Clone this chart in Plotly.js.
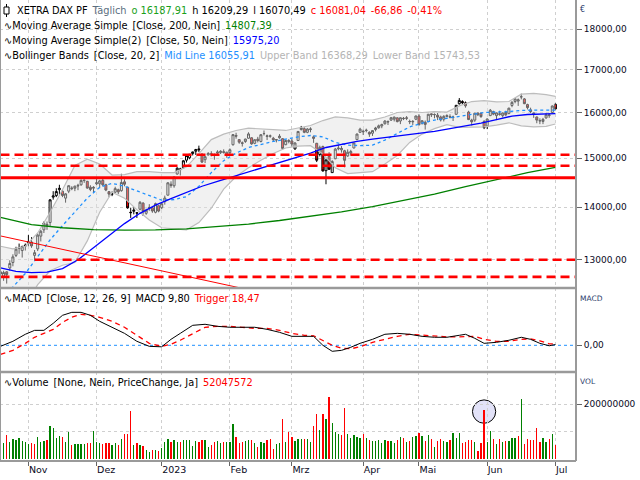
<!DOCTYPE html>
<html><head><meta charset="utf-8">
<script src="https://cdn.plot.ly/plotly-3.0.1.min.js"></script>
<style>html,body{margin:0;padding:0;background:#fff}#chart{width:640px;height:480px}</style>
</head><body><div id="chart"></div>
<script>
// ---------- DATA (trading days 19 Oct 2022 .. 3 Jul 2023, index 0..179) ----------
const tickIdx  = [9, 31, 52, 74, 94, 117, 135, 157, 179];
const tickText = ['Nov', 'Dez', '2023', 'Feb', 'Mrz', 'Apr', 'Mai', 'Jun', 'Jul'];

const openP = [12780,12700,12780,12850,12950,13080,13220,13170,13270,13300,
13330,13080,13200,13440,13560,13640,13700,14200,14230,14350,
14320,14180,14320,14370,14380,14440,14450,14540,14520,14400,
14380,14470,14470,14540,14450,14310,14260,14300,14350,14330,
14510,14400,13900,13920,13890,13960,14080,13880,13980,13990,
13900,14030,13990,14110,14240,14460,14430,14670,14760,14800,
14960,15010,15100,15150,15200,15090,14970,15070,15090,15060,
15110,15120,15140,15080,15120,15290,15490,15400,15330,15360,
15430,15440,15320,15410,15360,15530,15470,15480,15430,15390,
15440,15420,15290,15380,15370,15200,15380,15620,15640,15560,
15620,15460,15320,15080,15250,14740,15040,14700,14990,15200,
15180,15160,15050,15110,15220,15400,15560,15570,15600,15560,
15540,15620,15660,15700,15750,15800,15830,15850,15880,15810,
15870,15880,15800,15790,15850,15920,15760,15780,15800,15970,
15950,15940,15900,15850,15930,15910,15890,15960,16200,16250,
16220,16010,15830,15830,15990,15980,15800,15700,15930,16020,
15930,15970,15930,16000,15980,16160,16250,16260,16360,16310,
16180,16060,15960,15900,15820,15800,15880,15930,16000,16187.91];
const highP = [12850,12800,12790,12990,13100,13240,13300,13260,13300,13460,
13420,13180,13490,13560,13720,13720,14160,14320,14380,14450,
14350,14280,14440,14420,14430,14470,14560,14560,14530,14440,
14420,14580,14550,14570,14470,14320,14320,14410,14370,14675,
14560,14410,13990,14000,13900,14120,14100,13970,14060,14000,
14090,14040,14080,14230,14500,14520,14620,14810,14800,14960,
15060,15090,15140,15200,15270,15100,15050,15130,15150,15100,
15170,15170,15190,15140,15210,15520,15550,15410,15360,15420,
15560,15450,15410,15460,15520,15600,15510,15510,15460,15410,
15520,15430,15400,15410,15420,15340,15590,15700,15670,15650,
15670,15490,15330,15270,15270,14970,15130,14960,15220,15290,
15260,15180,15190,15180,15330,15530,15660,15620,15640,15580,
15600,15680,15730,15750,15830,15820,15900,15910,15890,15890,
15900,15920,15840,15830,15930,15960,15830,15820,15970,15980,
15980,15990,15930,15940,15960,15960,15930,16170,16330,16280,
16250,16040,15860,15990,16000,16000,15830,15870,16080,16040,
16000,16040,16000,16040,16110,16260,16320,16320,16430,16330,
16200,16110,16000,15910,15870,15880,15990,15980,16160,16209.29];
const lowP = [12660,12620,12570,12800,12880,13050,13110,13040,13170,13250,
13220,12990,13160,13340,13500,13560,13620,14150,14200,14250,
14200,14090,14280,14340,14320,14340,14430,14490,14370,14320,
14290,14440,14380,14420,14320,14200,14220,14280,14260,14310,
14420,13970,13790,13860,13790,13940,13830,13850,13930,13890,
13880,13900,13960,14050,14230,14390,14390,14660,14640,14780,
14910,14980,15060,15070,15130,14900,14900,15060,15040,14970,
15060,15090,15100,15010,15080,15270,15420,15310,15250,15330,
15420,15290,15300,15340,15340,15490,15390,15440,15360,15340,
15420,15190,15280,15320,15250,15180,15370,15600,15540,15540,
15560,15330,14920,15040,14720,14460,14760,14700,14980,15170,
15120,14810,15030,15060,15210,15390,15550,15500,15560,15460,
15480,15580,15640,15650,15730,15720,15810,15800,15780,15740,
15830,15830,15740,15720,15830,15710,15730,15620,15780,15900,
15870,15830,15800,15800,15890,15870,15810,15950,16180,16190,
16110,15830,15710,15790,15920,15880,15630,15630,15920,15940,
15830,15930,15890,15920,15960,16120,16210,16150,16300,16190,
16070,15990,15880,15760,15740,15740,15860,15880,15990,16070.49];
const closeP = [12741,12767,12731,12931,13053,13196,13211,13243,13253,13338,
13256,13130,13460,13533,13688,13666,14146,14224,14313,14378,
14234,14266,14431,14380,14422,14428,14539,14541,14383,14355,
14397,14490,14529,14448,14343,14261,14264,14371,14306,14497,
14461,13987,13893,13942,13885,14098,13914,13941,13995,13925,
14071,13924,14069,14182,14490,14436,14610,14792,14774,14947,
15058,15086,15135,15187,15181,14920,15033,15103,15093,15082,
15132,15150,15126,15128,15181,15509,15476,15345,15321,15412,
15524,15307,15397,15380,15507,15533,15482,15477,15397,15400,
15475,15210,15381,15365,15305,15328,15578,15654,15559,15632,
15633,15428,14959,15233,14735,14967,14768,14933,15195,15216,
15210,14957,15128,15142,15328,15522,15629,15581,15604,15520,
15598,15655,15703,15729,15808,15790,15883,15896,15796,15882,
15864,15872,15796,15800,15922,15727,15815,15734,15961,15953,
15955,15897,15834,15914,15917,15897,15898,16164,16275,16223,
16152,15842,15793,15984,15952,15909,15664,15853,16051,15964,
15993,15961,15990,15950,16098,16231,16311,16290,16358,16201,
16111,16023,15988,15830,15813,15846,15949,15946,16148,16081.04];
// volume in millions of shares
const volumeM = [69,59,87,63,72,69,75,65,62,53,
59,55,81,63,65,69,121,112,78,84,
79,61,99,51,55,55,55,53,57,57,
102,63,57,53,57,59,51,57,51,73,
91,91,175,51,59,51,47,33,27,33,
33,29,39,62,74,62,69,62,63,69,
69,69,48,65,63,69,69,45,51,61,
65,59,61,62,62,128,80,59,63,65,
69,69,57,45,63,57,69,73,36,53,
59,146,63,98,80,65,73,73,73,73,
63,121,164,106,164,146,224,131,99,91,
87,186,91,78,87,81,75,91,78,69,
65,65,69,59,69,65,65,59,69,81,
75,63,65,81,85,96,85,65,87,73,
45,65,73,65,62,69,96,78,96,59,
63,69,69,62,30,59,178,62,102,72,
55,72,62,65,65,75,78,84,218,55,
72,69,69,112,62,78,62,72,91,52.05];

// Moving averages
const ma200Idx = [0,10,20,30,40,50,60,70,80,90,100,110,120,130,140,150,160,170,179];
const ma200Val = [13800,13660,13600,13565,13555,13560,13580,13620,13670,13740,13820,13910,14010,14130,14260,14410,14550,14700,14807.39];
const ma50Idx = [0,5,10,15,20,25,30,35,40,45,50,55,60,65,70,75,80,85,90,95,100,105,110,115,120,125,130,135,140,145,150,155,160,165,170,175,179];
const ma50Val = [12850,12790,12765,12775,12840,13000,13220,13450,13680,13880,14040,14170,14300,14420,14520,14615,14720,14810,14900,15000,15110,15230,15300,15360,15410,15450,15490,15530,15580,15640,15700,15765,15840,15920,15955,15965,15975.20];
// Bollinger Bands (20, 2)
const bbIdx   = [0,4,8,12,16,20,24,28,32,36,40,44,48,52,56,60,64,68,72,76,80,84,88,92,96,100,104,108,112,116,120,124,128,132,136,140,144,148,152,156,160,164,168,172,176,179];
const bbMid   = [12380,12510,12750,13050,13370,13640,13900,14180,14400,14480,14420,14330,14230,14140,14150,14210,14420,14700,14950,15110,15230,15300,15360,15410,15460,15490,15460,15340,15280,15270,15280,15390,15530,15680,15760,15830,15870,15910,15960,16000,16010,16020,16050,16050,16040,16055.91];
const bbUpper = [13250,13200,13250,13500,13900,14350,14850,14980,14880,14650,14660,14720,14720,14700,14700,14820,15100,15400,15520,15600,15650,15640,15620,15600,15660,15710,15820,15900,15880,15830,15830,15900,16000,16020,16000,16020,16010,16150,16250,16270,16240,16250,16420,16440,16410,16368.29];
const bbLower = [11600,11800,12200,12550,12800,12900,12950,13350,13900,14300,14180,13950,13750,13600,13580,13560,13700,13980,14360,14620,14800,14960,15100,15220,15260,15270,15090,14800,14680,14700,14720,14880,15060,15340,15520,15640,15730,15670,15670,15680,15720,15770,15700,15680,15690,15743.53];

// MACD (12, 26, 9)
const macdIdx  = [0,4,8,11,14,17,20,23,26,29,32,36,40,44,48,52,55,58,62,66,70,74,78,82,86,90,94,98,101,104,107,110,113,116,120,124,128,132,136,140,144,148,150,153,156,160,164,168,171,174,177,179];
const macdVal  = [-13,51,140,190,190,279,381,419,419,381,305,229,152,51,-13,-19,76,152,254,267,241,229,229,229,203,165,114,114,114,0,-76,-64,-25,25,76,140,152,140,114,102,102,127,140,89,25,38,64,102,76,25,-6,9.80];
const trigVal  = [-114,-64,25,102,152,203,292,356,394,381,356,305,229,127,25,-13,13,64,152,229,241,241,229,216,216,190,152,127,121,64,0,-38,-44,-19,38,76,114,140,127,114,108,108,114,114,76,51,51,76,83,57,19,18.47];

// Horizontal support / resistance lines and trend line
const solidLevels  = [14593];
const dashedLevels = [15075, 14842, 12999, 12690];
const dashedStart  = [0, 0, 11, 0];
const trendIdx = [0, 80];
const trendVal = [13444, 12462];
// marked volume bar
const markIdx = 156, markVolLo = 130, markVolHi = 215; // millions

const priceTicks = [13000,14000,15000,16000,17000,18000];

// ---------- BUILD ----------
const N = closeP.length;
const idx = Array.from({length:N}, (_, i) => i);
const X0 = -0.16, X1 = 185.65;
const PH = 461; // plot height px
const fy = py => (PH - py) / PH;
const fx = px => px / 576;

const volColors = closeP.map((c, i) => (i > 0 && c >= closeP[i-1]) ? '#008000' : '#ff0000');

const data = [];
data.push({type:'scatter', mode:'lines', x:bbIdx, y:bbUpper, xaxis:'x', yaxis:'y',
  line:{color:'#bdbdbd', width:1.2}, hoverinfo:'skip'});
data.push({type:'scatter', mode:'lines', x:bbIdx, y:bbLower, xaxis:'x', yaxis:'y',
  line:{color:'#bdbdbd', width:1.2}, fill:'tonexty', fillcolor:'rgba(225,225,225,0.45)', hoverinfo:'skip'});
data.push({type:'scatter', mode:'lines', x:bbIdx, y:bbMid, xaxis:'x', yaxis:'y',
  line:{color:'#1e90ff', width:1.3, dash:'dot'}, hoverinfo:'skip'});
data.push({type:'scatter', mode:'lines', x:ma200Idx, y:ma200Val, xaxis:'x', yaxis:'y',
  line:{color:'#008000', width:1.3}, hoverinfo:'skip'});
data.push({type:'scatter', mode:'lines', x:ma50Idx, y:ma50Val, xaxis:'x', yaxis:'y',
  line:{color:'#0000ff', width:1.3}, hoverinfo:'skip'});
data.push({type:'scatter', mode:'lines', x:trendIdx, y:trendVal, xaxis:'x', yaxis:'y',
  line:{color:'#ff0000', width:1}, hoverinfo:'skip'});
data.push({type:'candlestick', x:idx, open:openP, high:highP, low:lowP, close:closeP,
  xaxis:'x', yaxis:'y', whiskerwidth:0,
  increasing:{line:{color:'#000', width:1}, fillcolor:'#ffffff'},
  decreasing:{line:{color:'#000', width:1}, fillcolor:'#ff0000'},
  hoverinfo:'skip'});
solidLevels.forEach(v => data.push({type:'scatter', mode:'lines', x:[X0, X1], y:[v, v],
  xaxis:'x', yaxis:'y', line:{color:'#ff0000', width:3}, hoverinfo:'skip'}));
dashedLevels.forEach((v, k) => data.push({type:'scatter', mode:'lines', x:[dashedStart[k], X1], y:[v, v],
  xaxis:'x', yaxis:'y', line:{color:'#ff0000', width:2.6, dash:'9px,5px'}, hoverinfo:'skip'}));
data.push({type:'scatter', mode:'lines', x:[X0, X1], y:[0, 0], xaxis:'x', yaxis:'y2',
  line:{color:'#1e90ff', width:1, dash:'dot'}, hoverinfo:'skip'});
data.push({type:'scatter', mode:'lines', x:macdIdx, y:trigVal, xaxis:'x', yaxis:'y2',
  line:{color:'#ff0000', width:1.3, dash:'5px,4px'}, hoverinfo:'skip'});
data.push({type:'scatter', mode:'lines', x:macdIdx, y:macdVal, xaxis:'x', yaxis:'y2',
  line:{color:'#000000', width:1}, hoverinfo:'skip'});
data.push({type:'bar', x:idx, y:volumeM.map(v => v * 1e6), xaxis:'x', yaxis:'y3',
  width:0.4, marker:{color:volColors, line:{width:0}}, hoverinfo:'skip'});

const gridStyle = {showgrid:true, gridcolor:'#cfcfcf', griddash:'dot', gridwidth:1};
const tickFont = {family:'DejaVu Sans', size:9, color:'#0a0a1e'};
const FONT = 'DejaVu Sans';

const layout = {
  width:640, height:480,
  margin:{l:0, r:64, t:0, b:19, pad:0},
  paper_bgcolor:'#ffffff', plot_bgcolor:'#ffffff',
  showlegend:false,
  font:{family:FONT, size:9, color:'#000'},
  bargap:0, boxgap:0.08,
  xaxis:Object.assign({
    range:[X0, X1], anchor:'y3', tickmode:'array', tickvals:tickIdx, ticktext:tickText,
    ticks:'outside', ticklen:4, tickcolor:'#666', tickwidth:1,
    ticklabelposition:'outside right', tickfont:{family:FONT, size:9.5, color:'#0a0a1e'},
    zeroline:false, showline:false, rangeslider:{visible:false}, fixedrange:true
  }, gridStyle),
  yaxis:Object.assign({
    domain:[fy(288), 1], type:'log',
    range:[Math.log10(12492), Math.log10(18752)],
    side:'right', anchor:'x', tickmode:'array', tickvals:priceTicks,
    ticktext:priceTicks.map(v => v + ',00'),
    ticks:'outside', ticklen:5, tickcolor:'#666', tickfont:tickFont,
    zeroline:false, showline:false
  }, gridStyle),
  yaxis2:{
    domain:[fy(372), fy(288)], range:[-339, 728],
    side:'right', anchor:'x', tickmode:'array', tickvals:[0], ticktext:['0,00'],
    ticks:'outside', ticklen:5, tickcolor:'#666', tickfont:tickFont,
    showgrid:false, zeroline:false, showline:false
  },
  yaxis3:Object.assign({
    domain:[0, fy(372)], range:[-7.3e6, 316.4e6],
    side:'right', anchor:'x', tickmode:'array', tickvals:[200e6], ticktext:['200000000'],
    ticks:'outside', ticklen:5, tickcolor:'#666', tickfont:tickFont,
    zeroline:false, showline:false
  }, gridStyle),
  shapes:[
    {type:'line', xref:'paper', yref:'y3', x0:0, x1:1, y0:100e6, y1:100e6,
      line:{color:'#cfcfcf', width:1, dash:'dot'}, layer:'below'},
    {type:'circle', xref:'x', yref:'y3', x0:markIdx-3.75, x1:markIdx+3.75,
      y0:markVolLo*1e6, y1:markVolHi*1e6, fillcolor:'#e2e2f8',
      line:{color:'#000', width:1}, layer:'below'},
    {type:'line', xref:'paper', yref:'paper', x0:0, x1:0, y0:0, y1:1, line:{color:'#9a9a9a', width:2}},
    {type:'line', xref:'paper', yref:'paper', x0:1, x1:1, y0:0, y1:1, line:{color:'#9a9a9a', width:2}},
    {type:'line', xref:'paper', yref:'paper', x0:0, x1:1, y0:0, y1:0, line:{color:'#9a9a9a', width:2}},
    {type:'line', xref:'paper', yref:'paper', x0:0, x1:1, y0:fy(288), y1:fy(288), line:{color:'#9a9a9a', width:2.5}},
    {type:'line', xref:'paper', yref:'paper', x0:0, x1:1, y0:fy(372), y1:fy(372), line:{color:'#9a9a9a', width:2.5}},
    {type:'line', xref:'paper', yref:'paper', x0:fx(6.5), x1:fx(6.5), y0:fy(4), y1:fy(17), line:{color:'#000', width:1}},
    {type:'rect', xref:'paper', yref:'paper', x0:fx(4), x1:fx(9), y0:fy(7), y1:fy(14), line:{color:'#000', width:1}, fillcolor:'#fff'}
  ],
  annotations:[]
};

const sp = '\u2002';
const A = (txt, px, py, size, color, anchor) => layout.annotations.push({
  text:txt, xref:'paper', yref:'paper', x:fx(px), y:fy(py), xanchor:anchor || 'left', yanchor:'middle',
  showarrow:false, font:{family:FONT, size:size || 9.8, color:color || '#000'}, borderpad:0
});
A('XETRA DAX PF' + sp + '<span style="color:#5a6e80">Täglich</span>' + sp +
  '<span style="color:#19a019">o 16187,91</span>' + sp + 'h 16209,29' + sp + 'l 16070,49' + sp +
  '<span style="color:#ff0000">c 16081,04' + sp + '-66,86' + sp + '-0,41%</span>', 16, 10.7);
A('∿Moving Average Simple' + sp + '[Close, 200, Nein]' + sp + '<span style="color:#008000">14807,39</span>', 3, 25.5);
A('∿Moving Average Simple(2)' + sp + '[Close, 50, Nein]' + sp + '<span style="color:#0000ff">15975,20</span>', 3, 40.3);
A('∿Bollinger Bands' + sp + '[Close, 20, 2]' + sp + '<span style="color:#1e90ff">Mid Line 16055,91</span>' + sp +
  '<span style="color:#b4b4b4">Upper Band 16368,29' + sp + 'Lower Band 15743,53</span>', 3, 55.2);
A('∿MACD' + sp + '[Close, 12, 26, 9]' + sp + 'MACD 9,80' + sp + '<span style="color:#ff0000">Trigger 18,47</span>', 3, 298.3);
A('∿Volume' + sp + '[None, Nein, PriceChange, Ja]' + sp + '<span style="color:#ff0000">52047572</span>', 3, 382.5);
A('€', 579, 10, 8, '#2a3a6a');
A('MACD', 579, 298, 7.5, '#2a3a6a');
A('VOL', 579, 381.5, 7.5, '#2a3a6a');

Plotly.newPlot('chart', data, layout, {staticPlot:true, displayModeBar:false});
</script>
</body></html>
